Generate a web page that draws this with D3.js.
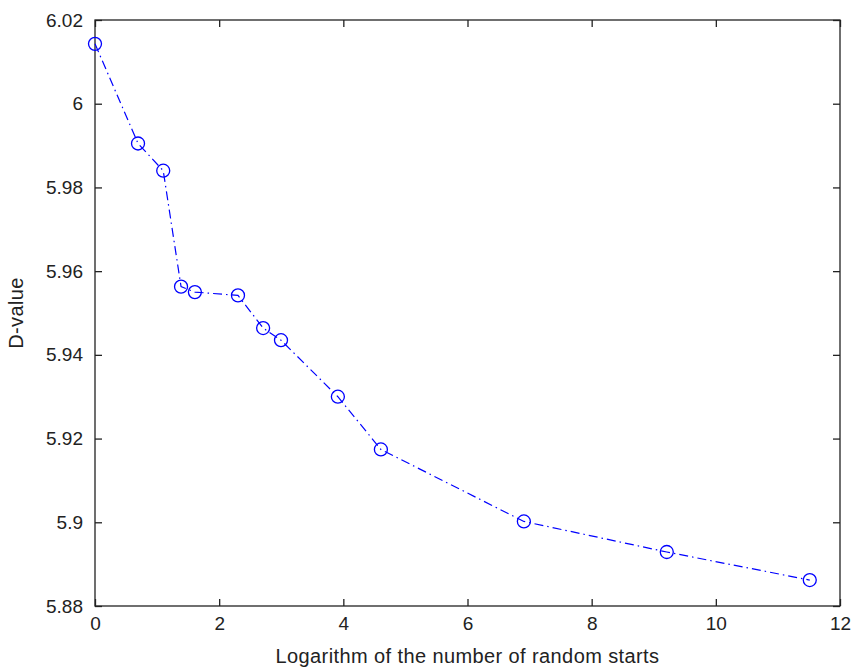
<!DOCTYPE html>
<html>
<head>
<meta charset="utf-8">
<script src="https://cdn.jsdelivr.net/npm/d3@7"></script>
<style>
  body { margin: 0; background: #fff; }
  .tick text { font-family: "Liberation Sans", Arial, sans-serif; font-size: 19px; fill: #222; }
  .axis-title { font-family: "Liberation Sans", Arial, sans-serif; font-size: 20px; fill: #222; letter-spacing: 0.4px; }
</style>
</head>
<body>
<svg id="chart" width="853" height="670"></svg>
<script>
// log of number of random starts (ln 1, ln 2, ... ln 100000)
var logStarts = [0, 0.693, 1.099, 1.386, 1.609, 2.303, 2.708, 2.996, 3.912, 4.605, 6.908, 9.210, 11.513];
var dValues = [6.0143, 5.9905, 5.9840, 5.9563, 5.9550, 5.9542, 5.9464, 5.9435, 5.9300, 5.9174, 5.9002, 5.8929, 5.8862];
var xTicks = [0, 2, 4, 6, 8, 10, 12];
var yTicks = [5.88, 5.9, 5.92, 5.94, 5.96, 5.98, 6, 6.02];

var mLeft = 95, mRight = 840, mTop = 20, mBottom = 606;

var svg = d3.select("#chart");

var x = d3.scaleLinear().domain([0, 12]).range([mLeft, mRight]);
var y = d3.scaleLinear().domain([5.88, 6.02]).range([mBottom, mTop]);

var fmt = function(d){ return String(+d.toFixed(2)); };

// frame
svg.append("rect")
  .attr("x", mLeft).attr("y", mTop)
  .attr("width", mRight - mLeft).attr("height", mBottom - mTop)
  .attr("fill", "none").attr("stroke", "#222").attr("stroke-width", 1.3);

// axes, ticks inward
svg.append("g").attr("transform", "translate(0," + mBottom + ")")
  .call(d3.axisBottom(x).tickValues(xTicks).tickFormat(fmt).tickSizeInner(-7).tickSizeOuter(0).tickPadding(11));
svg.append("g").attr("transform", "translate(0," + mTop + ")")
  .call(d3.axisTop(x).tickValues(xTicks).tickFormat("").tickSizeInner(-7).tickSizeOuter(0));
svg.append("g").attr("transform", "translate(" + mLeft + ",0)")
  .call(d3.axisLeft(y).tickValues(yTicks).tickFormat(fmt).tickSizeInner(-7).tickSizeOuter(0).tickPadding(12));
svg.append("g").attr("transform", "translate(" + mRight + ",0)")
  .call(d3.axisRight(y).tickValues(yTicks).tickFormat("").tickSizeInner(-7).tickSizeOuter(0));

svg.selectAll(".domain").remove();
svg.selectAll(".tick line").attr("stroke", "#222").attr("stroke-width", 1.3);

// line
var pts = logStarts.map(function(v, i){ return [v, dValues[i]]; });
var line = d3.line().x(function(d){ return x(d[0]); }).y(function(d){ return y(d[1]); });

svg.append("path")
  .datum(pts)
  .attr("d", line)
  .attr("fill", "none")
  .attr("stroke", "#0000ff")
  .attr("stroke-width", 1.2)
  .attr("stroke-dasharray", "9,4,1.5,4");

svg.selectAll(".pt")
  .data(pts)
  .enter()
  .append("circle")
  .attr("class", "pt")
  .attr("cx", function(d){ return x(d[0]); })
  .attr("cy", function(d){ return y(d[1]); })
  .attr("r", 6.5)
  .attr("fill", "none")
  .attr("stroke", "#0000ff")
  .attr("stroke-width", 1.3);

// titles
svg.append("text")
  .attr("class", "axis-title")
  .attr("x", (mLeft + mRight) / 2)
  .attr("y", 663)
  .attr("text-anchor", "middle")
  .text("Logarithm of the number of random starts");

svg.append("text")
  .attr("class", "axis-title")
  .attr("transform", "translate(23," + ((mTop + mBottom) / 2) + ") rotate(-90)")
  .attr("text-anchor", "middle")
  .text("D-value");
</script>
</body>
</html>
